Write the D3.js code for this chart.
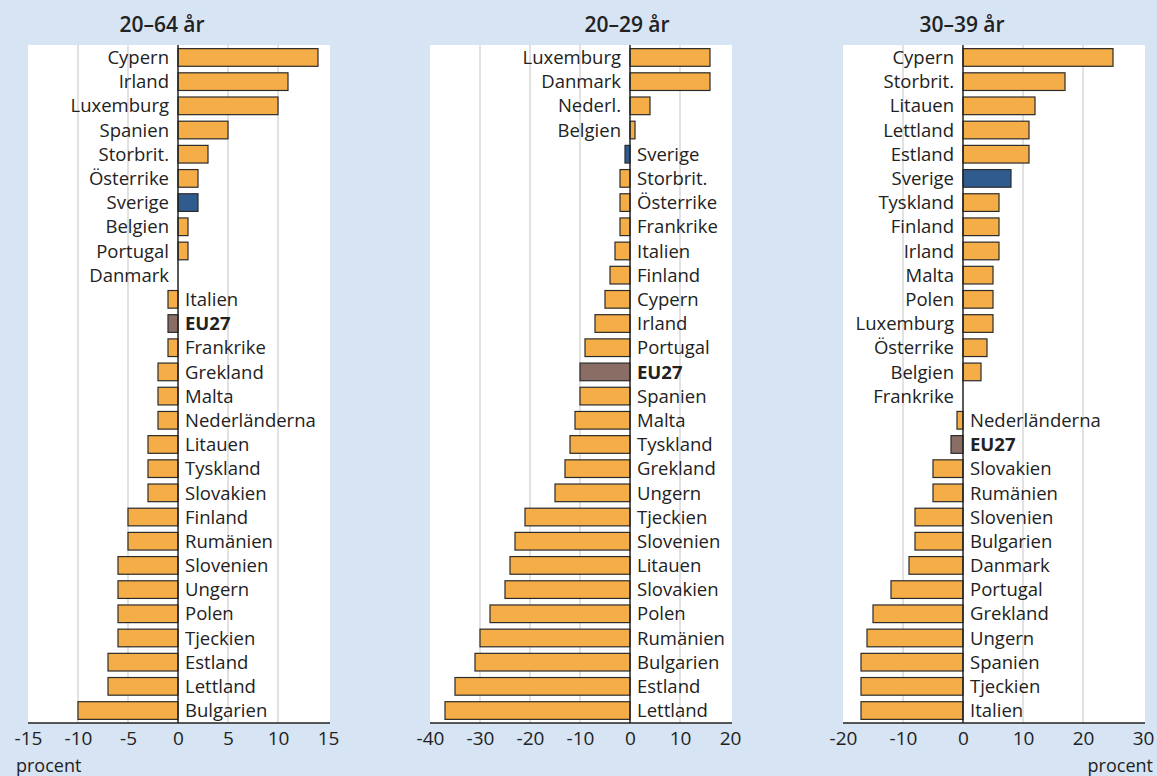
<!DOCTYPE html>
<html>
<head>
<meta charset="utf-8">
<script src="https://cdn.jsdelivr.net/npm/d3@7"></script>
<style>
  body { margin: 0; background: #d7e4f4; }
  svg { display: block; font-family: "Open Sans", sans-serif; }
</style>
</head>
<body>
<div id="chart"></div>
<script>
// data
var titles = ["20–64 år", "20–29 år", "30–39 år"];

var countries1 = ["Cypern", "Irland", "Luxemburg", "Spanien", "Storbrit.", "Österrike", "Sverige", "Belgien", "Portugal", "Danmark",
    "Italien", "EU27", "Frankrike", "Grekland", "Malta", "Nederländerna", "Litauen", "Tyskland", "Slovakien", "Finland",
    "Rumänien", "Slovenien", "Ungern", "Polen", "Tjeckien", "Estland", "Lettland", "Bulgarien"];
var values1 = [14, 11, 10, 5, 3, 2, 2, 1, 1, 0, -1, -1, -1, -2, -2, -2, -3, -3, -3, -5, -5, -6, -6, -6, -6, -7, -7, -10];

var countries2 = ["Luxemburg", "Danmark", "Nederl.", "Belgien", "Sverige", "Storbrit.", "Österrike", "Frankrike", "Italien", "Finland",
    "Cypern", "Irland", "Portugal", "EU27", "Spanien", "Malta", "Tyskland", "Grekland", "Ungern", "Tjeckien",
    "Slovenien", "Litauen", "Slovakien", "Polen", "Rumänien", "Bulgarien", "Estland", "Lettland"];
var values2 = [16, 16, 4, 1, -1, -2, -2, -2, -3, -4, -5, -7, -9, -10, -10, -11, -12, -13, -15, -21, -23, -24, -25, -28, -30, -31, -35, -37];

var countries3 = ["Cypern", "Storbrit.", "Litauen", "Lettland", "Estland", "Sverige", "Tyskland", "Finland", "Irland", "Malta",
    "Polen", "Luxemburg", "Österrike", "Belgien", "Frankrike", "Nederländerna", "EU27", "Slovakien", "Rumänien", "Slovenien",
    "Bulgarien", "Danmark", "Portugal", "Grekland", "Ungern", "Spanien", "Tjeckien", "Italien"];
var values3 = [25, 17, 12, 11, 11, 8, 6, 6, 6, 5, 5, 5, 4, 3, 0, -1, -2, -5, -5, -8, -8, -9, -12, -15, -16, -17, -17, -17];

var ticks1 = [-15, -10, -5, 0, 5, 10, 15];
var ticks2 = [-40, -30, -20, -10, 0, 10, 20];
var ticks3 = [-20, -10, 0, 10, 20, 30];

var width = 1157, height = 776;
var plotTop = 45, plotBottom = 723;

// layout per panel
var panels = [
    {title: titles[0], names: countries1, values: values1, ticks: ticks1, x0: 28, x1: 328, titleX: 162, unit: "left"},
    {title: titles[1], names: countries2, values: values2, ticks: ticks2, x0: 430, x1: 730, titleX: 627, unit: null},
    {title: titles[2], names: countries3, values: values3, ticks: ticks3, x0: 843, x1: 1143, titleX: 962, unit: "right"}
];

var svg = d3.select("#chart").append("svg")
    .attr("width", width)
    .attr("height", height);

svg.append("rect").attr("width", width).attr("height", height).attr("fill", "#d7e4f4");

function barColor(name) {
    if (name == "Sverige") return "#2f5b8f";
    if (name == "EU27") return "#8a6e66";
    return "#f5ae47";
}

panels.forEach(function (p) {
    var rows = p.names.map(function (n, i) { return {name: n, value: p.values[i]}; });

    var x = d3.scaleLinear()
        .domain([p.ticks[0], p.ticks[p.ticks.length - 1]])
        .range([p.x0, p.x1]);
    var y = d3.scaleBand()
        .domain(p.names)
        .range([plotTop, plotBottom])
        .paddingInner(0.27)
        .paddingOuter(0.15);

    var g = svg.append("g");

    // white plot area
    g.append("rect")
        .attr("x", p.x0)
        .attr("y", plotTop)
        .attr("width", p.x1 - p.x0 + 2)
        .attr("height", plotBottom - plotTop)
        .attr("fill", "#fff");

    // grid
    g.selectAll(".grid")
        .data(p.ticks.filter(function (t, i) { return t != 0 && i > 0 && i < p.ticks.length - 1; }))
        .enter().append("line")
        .attr("x1", function (d) { return x(d); })
        .attr("x2", function (d) { return x(d); })
        .attr("y1", plotTop)
        .attr("y2", plotBottom)
        .attr("stroke", "#d9d9d9")
        .attr("stroke-width", 1.5);

    // bars
    g.selectAll(".bar")
        .data(rows.filter(function (d) { return d.value != 0; }))
        .enter().append("rect")
        .attr("x", function (d) { return x(Math.min(0, d.value)); })
        .attr("y", function (d) { return y(d.name); })
        .attr("width", function (d) { return Math.abs(x(d.value) - x(0)); })
        .attr("height", y.bandwidth())
        .attr("fill", function (d) { return barColor(d.name); })
        .attr("stroke", "#2b2b2b")
        .attr("stroke-width", 1.2);

    // zero line
    g.append("line")
        .attr("x1", x(0)).attr("x2", x(0))
        .attr("y1", plotTop).attr("y2", plotBottom)
        .attr("stroke", "#222")
        .attr("stroke-width", 1.5);

    // country labels
    g.selectAll(".lab")
        .data(rows)
        .enter().append("text")
        .attr("x", function (d) { return d.value >= 0 ? x(0) - 9 : x(0) + 7; })
        .attr("y", function (d) { return y(d.name) + y.bandwidth() / 2; })
        .attr("dy", "0.36em")
        .attr("text-anchor", function (d) { return d.value >= 0 ? "end" : "start"; })
        .style("font-size", "18.5px")
        .style("font-weight", function (d) { return d.name == "EU27" ? 700 : 400; })
        .attr("fill", "#222")
        .text(function (d) { return d.name; });

    // bottom axis
    var axis = g.append("g")
        .attr("transform", "translate(0," + plotBottom + ")")
        .call(d3.axisBottom(x).tickValues(p.ticks).tickSize(0).tickPadding(9).tickFormat(d3.format("d")));
    axis.select(".domain")
        .attr("d", "M" + p.x0 + ",0H" + (p.x1 + 2))
        .attr("stroke", "#222")
        .attr("stroke-width", 1.5);
    axis.selectAll("text")
        .style("font-family", "Open Sans, sans-serif")
        .style("font-size", "19px")
        .attr("fill", "#222")
        .text(function (d) { return String(d); });

    // title
    svg.append("text")
        .attr("x", p.titleX)
        .attr("y", 32)
        .attr("text-anchor", "middle")
        .style("font-size", "21px")
        .style("font-weight", 600)
        .attr("fill", "#222")
        .text(p.title);

    if (p.unit == "left") {
        svg.append("text")
            .attr("x", 16).attr("y", 772)
            .style("font-size", "18px")
            .attr("fill", "#222")
            .text("procent");
    } else if (p.unit == "right") {
        svg.append("text")
            .attr("x", width - 4).attr("y", 772)
            .attr("text-anchor", "end")
            .style("font-size", "18px")
            .attr("fill", "#222")
            .text("procent");
    }
});
</script>
</body>
</html>
